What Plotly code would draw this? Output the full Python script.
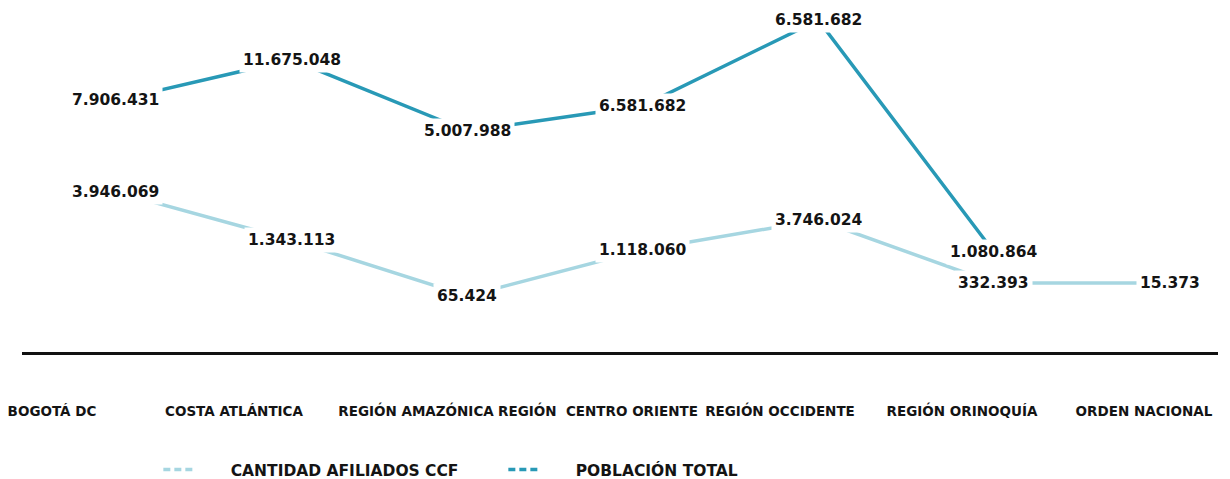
import plotly.graph_objects as go

# ---- datos ----
categorias = [
    "BOGOTÁ DC",
    "COSTA ATLÁNTICA",
    "REGIÓN AMAZÓNICA",
    "REGIÓN\u00a0\u00a0CENTRO ORIENTE",
    "REGIÓN OCCIDENTE",
    "REGIÓN ORINOQUÍA",
    "ORDEN NACIONAL",
]
poblacion_total = [7906431, 11675048, 5007988, 6581682, 6581682, 1080864, None]
afiliados_ccf = [3946069, 1343113, 65424, 1118060, 3746024, 332393, 15373]

# altura visual de cada punto tal como aparece en la infografía (escala 0-100, no proporcional)
nivel_poblacion = [74, 86, 65, 72.4, 97.6, 29.4, None]
nivel_ccf = [47.1, 32.9, 16.5, 30, 38.8, 20.3, 20.3]

serie_ccf = "CANTIDAD AFILIADOS CCF"
serie_pob = "POBLACIÓN TOTAL"

# ---- estilos ----
COLOR_POB = "#2899b6"
COLOR_CCF = "#a6d6e1"
TEXTO = "#141414"
FUENTE = "DejaVu Sans"

x_idx = list(range(len(categorias)))


def fmt(v):
    return f"{v:,}".replace(",", ".")


fig = go.Figure()

fig.add_trace(go.Scatter(
    x=x_idx, y=nivel_ccf, mode="lines",
    line=dict(color=COLOR_CCF, width=3.5),
    showlegend=False, hoverinfo="skip",
))
fig.add_trace(go.Scatter(
    x=x_idx, y=nivel_poblacion, mode="lines",
    line=dict(color=COLOR_POB, width=3.5),
    showlegend=False, hoverinfo="skip", connectgaps=False,
))
# traza vacía que ancla el eje de categorías
fig.add_trace(go.Scatter(
    x=x_idx, y=[None] * len(x_idx), xaxis="x2", mode="lines",
    showlegend=False, hoverinfo="skip",
))

# trazas solo para la leyenda (símbolo discontinuo)
pad = "\u00a0" * 6
fig.add_trace(go.Scatter(
    x=[None], y=[None], mode="lines", name=pad + serie_ccf,
    line=dict(color=COLOR_CCF, width=3.5, dash="7px,4px"),
))
fig.add_trace(go.Scatter(
    x=[None], y=[None], mode="lines", name=pad + serie_pob,
    line=dict(color=COLOR_POB, width=3.5, dash="7px,4px"),
))

annotations = []
for valores, niveles in ((afiliados_ccf, nivel_ccf), (poblacion_total, nivel_poblacion)):
    for i, (v, n) in enumerate(zip(valores, niveles)):
        if v is None or n is None:
            continue
        annotations.append(dict(
            x=i, y=n, xref="x", yref="y", text=fmt(v), showarrow=False,
            bgcolor="white", borderpad=3,
            font=dict(family=FUENTE, size=15.5, color=TEXTO, weight="bold"),
        ))

# la página añade 8 px de margen al cuerpo: la figura se dimensiona para ocupar el resto de la ventana
fig.update_layout(
    width=1222, height=471,
    margin=dict(l=14, r=12, t=4, b=127, autoexpand=False),
    paper_bgcolor="white", plot_bgcolor="white",
    annotations=annotations,
    xaxis=dict(
        range=[-0.535, 6.276],
        showticklabels=False,
        showline=True, linecolor="#111111", linewidth=3,
        showgrid=False, zeroline=False, ticks="",
        fixedrange=True,
    ),
    xaxis2=dict(
        overlaying="x", side="bottom", anchor="y",
        range=[-0.1648, 6.4066],
        tickmode="array", tickvals=x_idx, ticktext=categorias,
        tickangle=0, ticklabeloverflow="allow",
        showline=False, showgrid=False, zeroline=False, ticks="",
        tickfont=dict(family=FUENTE, size=13.5, color=TEXTO, weight="bold"),
        ticklabelstandoff=49,
        fixedrange=True,
    ),
    yaxis=dict(range=[0, 100], visible=False, fixedrange=True),
    legend=dict(
        orientation="h", x=0.114, y=-0.347, xanchor="left", yanchor="middle",
        font=dict(family=FUENTE, size=15.5, color=TEXTO, weight="bold"),
        entrywidth=300, entrywidthmode="pixels",
        bgcolor="rgba(0,0,0,0)",
    ),
)

fig.write_html("out.html")
